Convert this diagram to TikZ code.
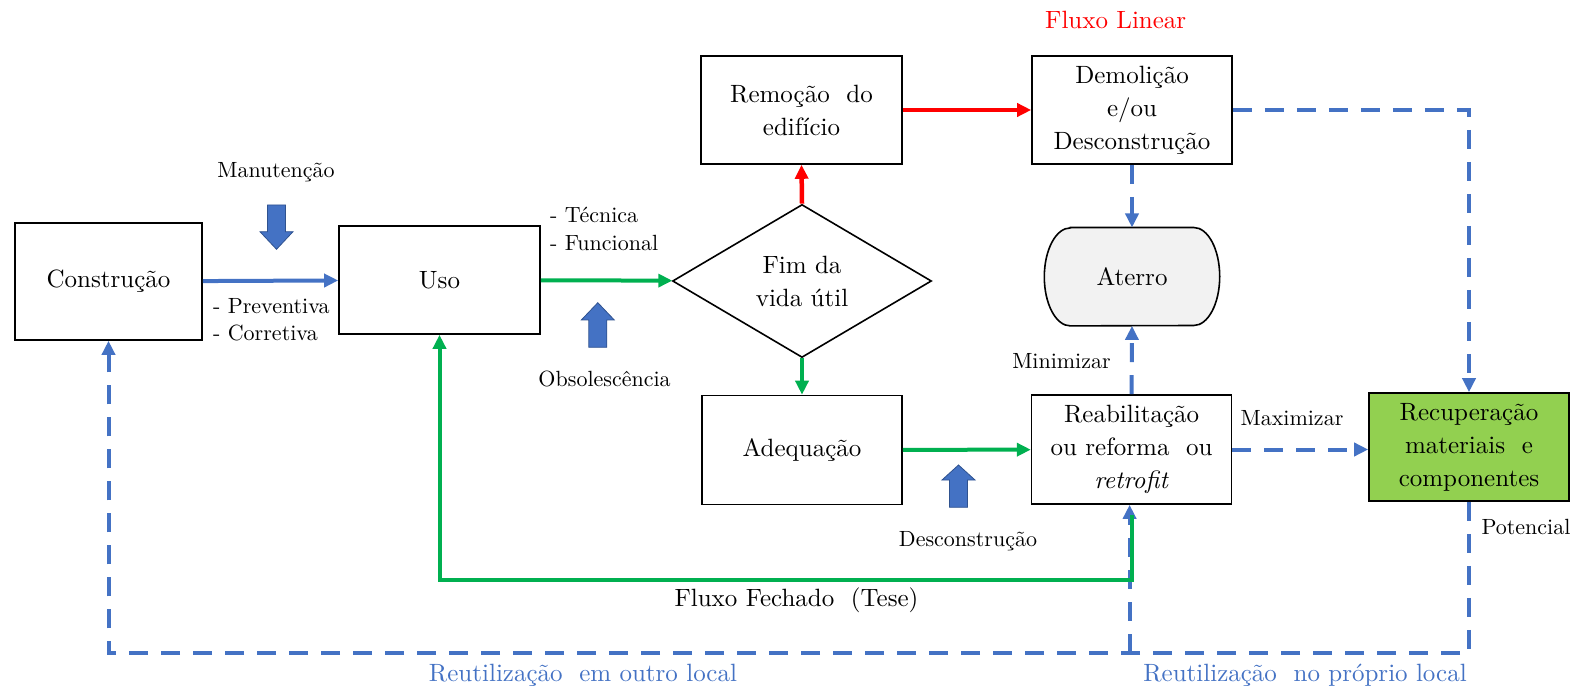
\documentclass[tikz,border=0pt]{standalone}
\usepackage{fontspec}
\setmainfont{lmroman10}[Extension=.otf, UprightFont=*-regular, ItalicFont=*-italic, BoldFont=*-bold]
\usetikzlibrary{arrows.meta,shapes.geometric}

\definecolor{flowblue}{HTML}{4472C4}
\definecolor{flowgreen}{HTML}{00B050}
\definecolor{flowred}{HTML}{FF0000}
\definecolor{recupfill}{HTML}{92D050}
\definecolor{aterrofill}{HTML}{F2F2F2}
\definecolor{blockedge}{HTML}{2F528F}

\newcommand{\mainsize}{\fontsize{25}{33}\selectfont}
\newcommand{\smallsize}{\fontsize{22}{28}\selectfont}

% vertical block arrow: centre x, tip y, head base y, tail y
\newcommand{\blkarrow}[4]{%
  \filldraw[blockarrow] ({#1-9},#4) -- ({#1-9},#3) -- ({#1-16.5},#3) -- (#1,#2)
    -- ({#1+16.5},#3) -- ({#1+9},#3) -- ({#1+9},#4) -- cycle;}

\begin{document}
\begin{tikzpicture}[x=1pt,y=-1pt,
  box/.style={draw=black, line width=1.6pt, fill=white, minimum width=200pt,
    minimum height=108pt, inner sep=0pt, align=center, font=\mainsize},
  label/.style={inner sep=0pt, font=\smallsize},
  biglabel/.style={inner sep=0pt, font=\mainsize},
  tip/.style={-{Triangle[length=14pt,width=13pt]}},
  blueflow/.style={tip, draw=flowblue, line width=4pt},
  bluedash/.style={tip, draw=flowblue, line width=4pt, dash pattern=on 19pt off 13pt},
  greenflow/.style={tip, draw=flowgreen, line width=4pt},
  redflow/.style={tip, draw=flowred, line width=4.5pt},
  blockarrow/.style={fill=flowblue, draw=blockedge, line width=0.8pt}]

\useasboundingbox (0,0) rectangle (1579,692);

% process boxes
\node[box, minimum width=187pt, minimum height=117pt] (constr) at (108.5,281.5) {Construção};
\node[box, minimum width=201pt] (uso) at (439.5,280) {Uso};
\node[box, minimum width=201pt] (remocao) at (801.5,110) {Remoção \ do\\edifício};
\node[box] (demol) at (1132,110) {Demolição\\e/ou\\Desconstrução};
\node[box, minimum height=109pt] (adeq) at (802,450) {Adequação};
\node[box, minimum height=109pt] (reab) at (1131.6,449.5) {Reabilitação\\ou reforma \ ou\\\textit{retrofit}};
\node[box, fill=recupfill] (recup) at (1469,447) {Recuperação\\materiais \ e\\componentes};

% decision
\node[diamond, draw=black, line width=1.6pt, minimum width=259pt, minimum height=153pt,
  inner sep=0pt, align=center, font=\mainsize] (fim) at (802,281) {Fim da\\vida útil};

% landfill terminator with elliptical sides
\node[minimum width=175pt, minimum height=98pt, inner sep=0pt, font=\mainsize] (aterro) at (1132,276.7) {};
\filldraw[fill=aterrofill, draw=black, line width=1.6pt]
  ([xshift=26pt]aterro.north west) -- ([xshift=-26pt]aterro.north east)
  arc[start angle=90, end angle=-90, x radius=26pt, y radius=49pt]
  -- ([xshift=26pt]aterro.south west)
  arc[start angle=270, end angle=90, x radius=26pt, y radius=49pt] -- cycle;
\node[font=\mainsize, inner sep=0pt] at (aterro) {Aterro};

% block arrows
\blkarrow{276.5}{249.3}{231.7}{205}
\blkarrow{597.8}{302.7}{320}{347.3}
\blkarrow{958.5}{465}{480}{507.3}

% connectors
\draw[blueflow] (constr) -- (uso);
\draw[greenflow] (uso) -- (fim);
\draw[redflow] (fim.north) -- (remocao.south);
\draw[redflow] (remocao) -- (demol);
\draw[greenflow] (fim.south) -- (adeq.north);
\draw[greenflow] (adeq) -- (reab);
\draw[bluedash] (demol.south) -- (aterro.north);
\draw[bluedash] (reab.north) -- (aterro.south);
\draw[bluedash] (reab.east) -- (reab.east -| recup.west);
\draw[bluedash] (demol.east) -| (recup.north);
\draw[bluedash] (recup.south) -- ++(0,151) coordinate (loopcorner) -| (constr.south);
\draw[bluedash] ([xshift=-2pt]reab.south |- loopcorner) -- ([xshift=-2pt]reab.south);
\draw[greenflow] ([yshift=-10pt]reab.south) -- ++(0,65) -| (uso.south);

% labels
\node[label] at (276,172) {Manutenção};
\node[label, anchor=west] at (213,306) {- Preventiva};
\node[label, anchor=west] at (213,333) {- Corretiva};
\node[label, anchor=west] at (550,215) {- Técnica};
\node[label, anchor=west] at (550,243) {- Funcional};
\node[label] at (604.6,379) {Obsolescência};
\node[biglabel, text=flowred] at (1115.7,19.5) {Fluxo Linear};
\node[label] at (1061.5,361) {Minimizar};
\node[label] at (1292,418) {Maximizar};
\node[label] at (1526,527) {Potencial};
\node[label] at (968,541) {Desconstrução};
\node[biglabel] at (796.5,600) {Fluxo Fechado \ (Tese)};
\node[biglabel, text=flowblue] at (583,675) {Reutilização \ em outro local};
\node[biglabel, text=flowblue] at (1305,675) {Reutilização \ no próprio local};

\end{tikzpicture}
\end{document}
